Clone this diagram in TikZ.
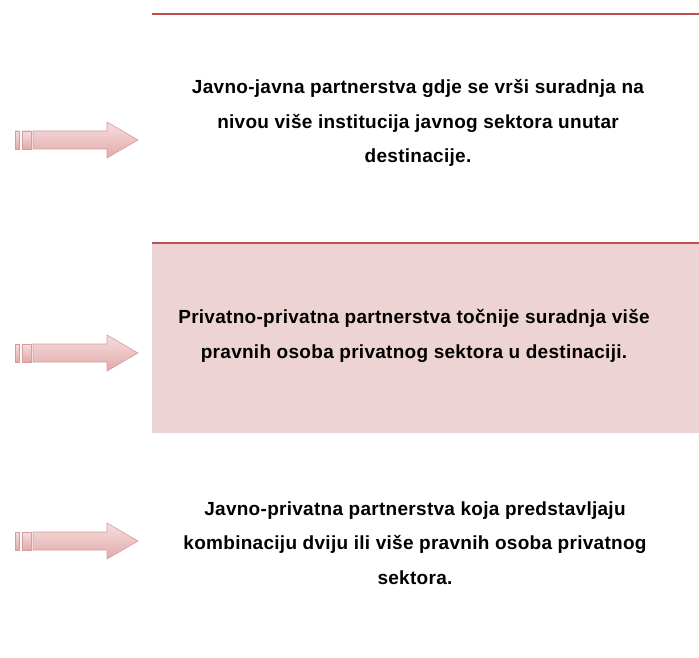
\documentclass[tikz,border=0pt]{standalone}
\usepackage{fontspec}
\setmainfont{Liberation Sans}
\newfontfamily\txtfont[LetterSpace=1.5]{Liberation Sans}
\definecolor{linered}{HTML}{C0504D}
\definecolor{boxfill}{HTML}{EED3D4}
\definecolor{arrowedge}{HTML}{D89A9A}
\definecolor{arrowtop}{HTML}{F6DEDE}
\definecolor{arrowbot}{HTML}{E2A9AA}
\tikzset{
  txt/.style={align=center, font=\txtfont\bfseries\fontsize{19}{34.5}\selectfont, inner sep=0pt},
  arrowshape/.style={draw=arrowedge, line width=0.6pt, top color=arrowtop, bottom color=arrowbot},
  redline/.style={draw=linered, line width=1.2pt}
}
\newcommand{\myarrow}[1]{%
  \begin{scope}[shift={(0,#1)}]
    \path[arrowshape] (15,-9) rectangle (19,9);
    \path[arrowshape] (22,-9) rectangle (31,9);
    \path[arrowshape] (33,-9) -- (107,-9) -- (107,-18) -- (138,0) -- (107,18) -- (107,9) -- (33,9) -- cycle;
  \end{scope}}
\begin{document}
\begin{tikzpicture}[x=1pt,y=-1pt]
\useasboundingbox (0,0) rectangle (699,658);
% top line
\coordinate (t1) at (152,14);
\coordinate (t2) at (699,14);
\draw[redline] (t1) -- (t2);
% middle box
\fill[boxfill] (152,243) rectangle (699,433);
\coordinate (m1) at (152,243);
\coordinate (m2) at (699,243);
\draw[redline] (m1) -- (m2);
% arrows
\myarrow{140}
\myarrow{353}
\myarrow{541}
% texts
\node[txt] (a) at (418,123) {Javno-javna partnerstva gdje se vrši suradnja na\\ nivou više institucija javnog sektora unutar\\ destinacije.};
\node[txt] (b) at (414,336) {Privatno-privatna partnerstva točnije suradnja više\\ pravnih osoba privatnog sektora u destinaciji.};
\node[txt] (c) at (415,543) {Javno-privatna partnerstva koja predstavljaju\\ kombinaciju dviju ili više pravnih osoba privatnog\\ sektora.};
\end{tikzpicture}
\end{document}
